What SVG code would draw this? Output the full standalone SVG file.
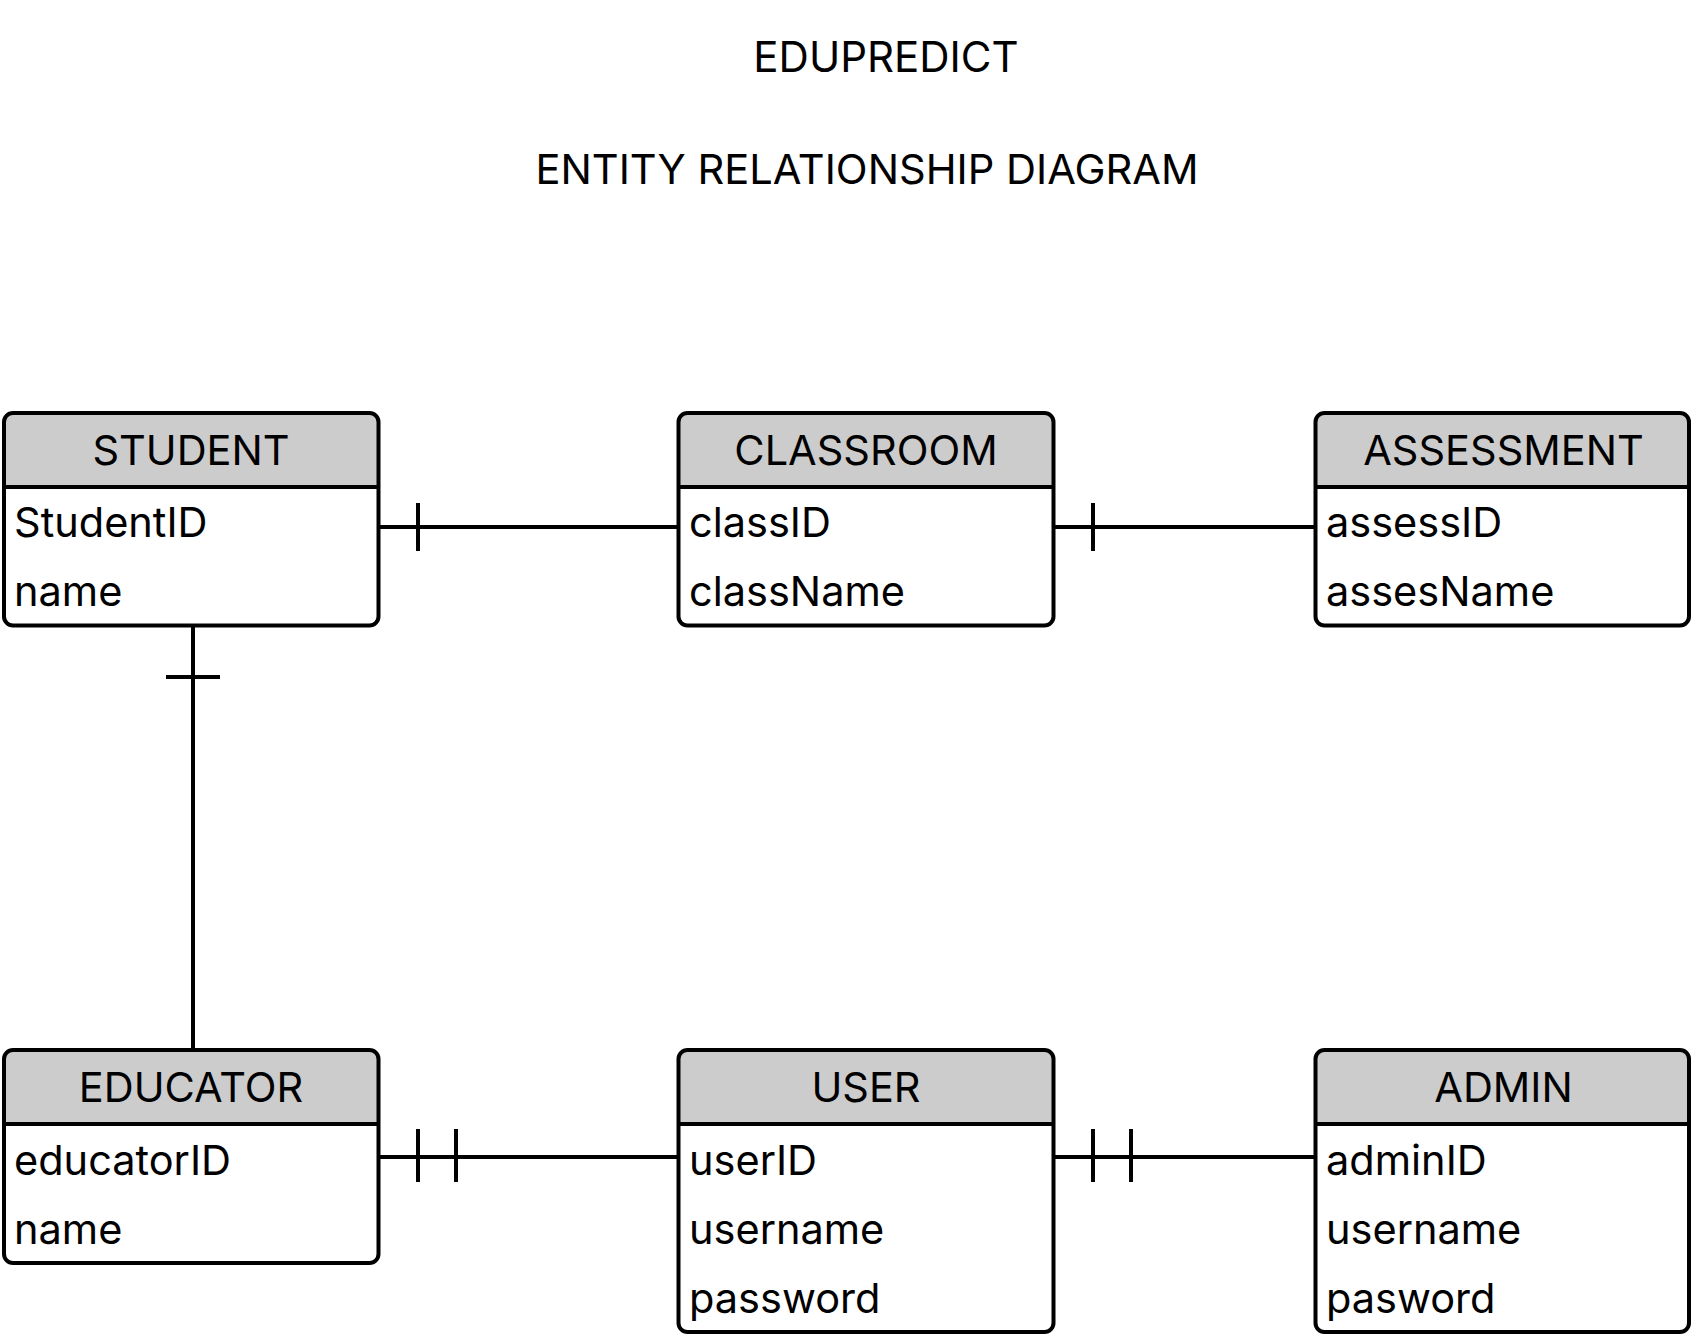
<svg xmlns="http://www.w3.org/2000/svg" width="1691" height="1335" viewBox="0 0 1691 1335">
<style>
.title{font-family:Inter,"Liberation Sans",sans-serif;font-size:42px;fill:#000;text-anchor:middle}
.t2{font-size:41.6px}
.hd{font-family:Inter,"Liberation Sans",sans-serif;font-size:41.5px;fill:#000;text-anchor:middle}
.at{font-family:Inter,"Liberation Sans",sans-serif;font-size:41.5px;fill:#000}
.box{fill:none;stroke:#000;stroke-width:4}
.hfill{fill:#cccccc}
.ln{stroke:#000;stroke-width:4;fill:none}
</style>
<rect width="1691" height="1335" fill="#fff"/>
<text class="title" x="886" y="72">EDUPREDICT</text>
<text class="title t2" x="867" y="184">ENTITY RELATIONSHIP DIAGRAM</text>

<g id="connectors">
<path class="ln" d="M378.5 527 H678 M418 503 V551"/>
<path class="ln" d="M1053.5 527 H1315.5 M1093 503 V551"/>
<path class="ln" d="M193 625.5 V1049 M166 677 H220"/>
<path class="ln" d="M378.5 1157 H678 M418 1129 V1182 M456 1129 V1182"/>
<path class="ln" d="M1053.5 1157 H1315.5 M1093 1129 V1182 M1131 1129 V1182"/>
</g>

<g id="student">
<path class="hfill" d="M4 487 V422 a9 9 0 0 1 9 -9 H369.5 a9 9 0 0 1 9 9 V487 Z"/>
<line class="ln" x1="4" y1="487" x2="378.5" y2="487"/>
<rect class="box" x="4" y="413" width="374.5" height="212.5" rx="9"/>
<text class="hd" x="191" y="465">STUDENT</text>
<text class="at" x="14" y="537">StudentID</text>
<text class="at" x="14" y="606">name</text>
</g>

<g id="classroom">
<path class="hfill" d="M678.5 487 V422 a9 9 0 0 1 9 -9 H1044.5 a9 9 0 0 1 9 9 V487 Z"/>
<line class="ln" x1="678.5" y1="487" x2="1053.5" y2="487"/>
<rect class="box" x="678.5" y="413" width="375" height="212.5" rx="9"/>
<text class="hd" x="866" y="465">CLASSROOM</text>
<text class="at" x="689" y="537">classID</text>
<text class="at" x="689" y="606">className</text>
</g>

<g id="assessment">
<path class="hfill" d="M1315.5 487 V422 a9 9 0 0 1 9 -9 H1680 a9 9 0 0 1 9 9 V487 Z"/>
<line class="ln" x1="1315.5" y1="487" x2="1689" y2="487"/>
<rect class="box" x="1315.5" y="413" width="373.5" height="212.5" rx="9"/>
<text class="hd" x="1503.5" y="465">ASSESSMENT</text>
<text class="at" x="1326" y="537">assessID</text>
<text class="at" x="1326" y="606">assesName</text>
</g>

<g id="educator">
<path class="hfill" d="M4 1124 V1059 a9 9 0 0 1 9 -9 H369.5 a9 9 0 0 1 9 9 V1124 Z"/>
<line class="ln" x1="4" y1="1124" x2="378.5" y2="1124"/>
<rect class="box" x="4" y="1050" width="374.5" height="213" rx="9"/>
<text class="hd" x="191" y="1102">EDUCATOR</text>
<text class="at" x="14" y="1175">educatorID</text>
<text class="at" x="14" y="1244">name</text>
</g>

<g id="user">
<path class="hfill" d="M678.5 1124 V1059 a9 9 0 0 1 9 -9 H1044.5 a9 9 0 0 1 9 9 V1124 Z"/>
<line class="ln" x1="678.5" y1="1124" x2="1053.5" y2="1124"/>
<rect class="box" x="678.5" y="1050" width="375" height="282" rx="9"/>
<text class="hd" x="866" y="1102">USER</text>
<text class="at" x="689" y="1175">userID</text>
<text class="at" x="689" y="1244">username</text>
<text class="at" x="689" y="1313">password</text>
</g>

<g id="admin">
<path class="hfill" d="M1315.5 1124 V1059 a9 9 0 0 1 9 -9 H1680 a9 9 0 0 1 9 9 V1124 Z"/>
<line class="ln" x1="1315.5" y1="1124" x2="1689" y2="1124"/>
<rect class="box" x="1315.5" y="1050" width="373.5" height="282" rx="9"/>
<text class="hd" x="1503.5" y="1102">ADMIN</text>
<text class="at" x="1326" y="1175">adminID</text>
<text class="at" x="1326" y="1244">username</text>
<text class="at" x="1326" y="1313">pasword</text>
</g>
</svg>
